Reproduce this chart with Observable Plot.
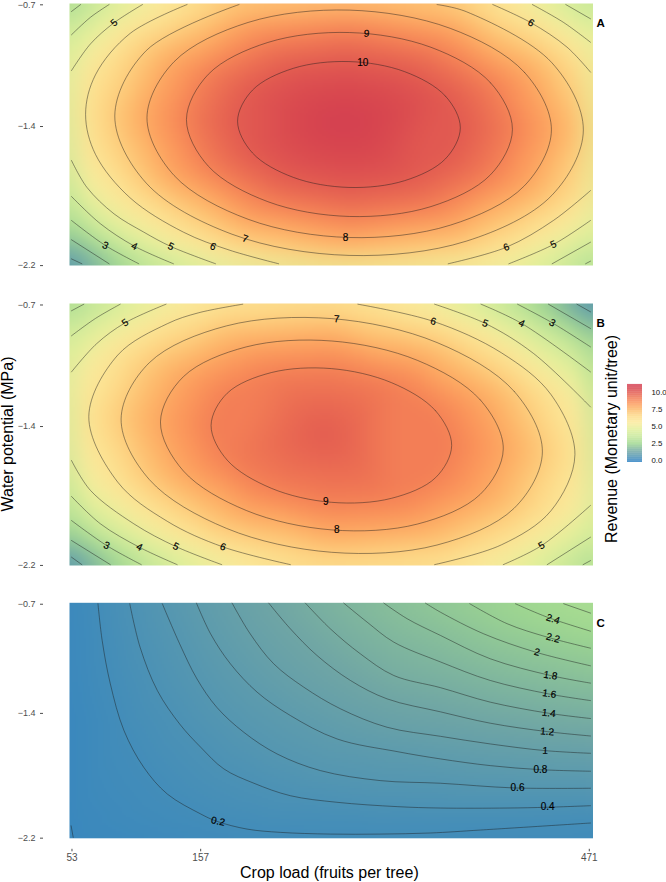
<!DOCTYPE html>
<html>
<head>
<meta charset="utf-8">
<script src="https://cdn.jsdelivr.net/npm/d3@7"></script>
<script src="https://cdn.jsdelivr.net/npm/@observablehq/plot@0.6"></script>
<style>
html,body{margin:0;padding:0;background:#fff;}
#page{position:relative;width:666px;height:882px;overflow:hidden;font-family:"Liberation Sans",Arial,sans-serif;}
#page svg{position:absolute;overflow:visible;}
.t{position:absolute;white-space:nowrap;color:#000;}
.rot{transform:translate(-50%,-50%) rotate(-90deg);}
.tag{font-weight:bold;font-size:11.5px;}
</style>
</head>
<body>
<div id="page"></div>
<script>
// Contour lines: level, closed?, [crop load, water potential]
const contoursA = [
 {level:10,closed:true,pts:[[366.8,-1.412],[354.7,-1.229],[321.8,-1.089],[276.8,-1.031],[231.8,-1.07],[198.9,-1.195],[186.8,-1.374],[198.9,-1.557],[231.8,-1.697],[276.8,-1.755],[321.8,-1.716],[354.7,-1.591]]},
 {level:9,closed:true,pts:[[408.9,-1.421],[391.2,-1.153],[343.1,-.949],[277.2,-.864],[211.3,-.921],[163.2,-1.104],[145.5,-1.365],[163.2,-1.633],[211.3,-1.837],[277.2,-1.922],[343.1,-1.865],[391.2,-1.682]]},
 {level:8,closed:true,pts:[[440.4,-1.424],[418.5,-1.092],[358.7,-.84],[277,-.735],[195.3,-.806],[135.5,-1.032],[113.6,-1.354],[135.5,-1.686],[195.3,-1.938],[277,-2.043],[358.7,-1.972],[418.5,-1.746]]},
 {level:7,closed:false,pts:[[188,-.703],[113,-.968],[87.6,-1.344],[113,-1.73],[182.3,-2.024],[276.9,-2.146],[371.6,-2.064],[440.8,-1.8],[466.2,-1.424],[440.8,-1.038],[371.6,-.744],[348,-.703]]},
 {level:6,closed:false,pts:[[146,-.703],[100,-.869],[72,-1.107],[64,-1.334],[72,-1.565],[100,-1.815],[143,-2.012],[180,-2.115],[220,-2.194]]},
 {level:6,closed:false,pts:[[393,-.703],[424,-.808],[453,-.948],[472,-1.092]]},
 {level:6,closed:false,pts:[[357,-2.194],[404,-2.099],[442,-1.945],[472,-1.773]]},
 {level:5,closed:false,pts:[[110,-.703],[87,-.808],[68,-.929],[52.6,-1.083]]},
 {level:5,closed:false,pts:[[52.6,-1.6],[65,-1.754],[87,-1.907],[111,-2.012],[133,-2.095],[169,-2.194]]},
 {level:5,closed:false,pts:[[425,-.703],[450,-.805],[472,-.92]]},
 {level:5,closed:false,pts:[[406,-2.194],[442,-2.083],[472,-1.945]]},
 {level:4,closed:false,pts:[[83,-.703],[68,-.776],[52.6,-.877]]},
 {level:4,closed:false,pts:[[52.6,-1.807],[76,-1.964],[103.5,-2.093],[135,-2.194]]},
 {level:4,closed:false,pts:[[452,-.703],[472,-.785]]},
 {level:4,closed:false,pts:[[441,-2.194],[472,-2.07]]},
 {level:3,closed:false,pts:[[60,-.703],[52.6,-.743]]},
 {level:3,closed:false,pts:[[52.6,-1.945],[80,-2.089],[107,-2.194]]},
 {level:3,closed:false,pts:[[468,-2.194],[472,-2.179]]},
 {level:2,closed:false,pts:[[52.6,-2.056],[83,-2.194]]},
 {level:1,closed:false,pts:[[52.6,-2.166],[61,-2.194]]}
];
const peaksA = [[274,-1.38,11],[51,-.696,2.5],[474,-.696,3.3],[51,-2.205,.4],[474,-2.205,2.8]];
const labelsA = [
 ["5",87,-.808,-40],["3",80,-2.089,25],["4",103.5,-2.093,25],["5",133,-2.095,25],["6",167,-2.095,22],["7",193,-2.051,18],
 ["9",291,-.87,5],["10",288,-1.036,0],["8",274,-2.043,0],["6",424,-.808,30],["6",404,-2.099,-22],["5",442,-2.083,-25]
];

const contoursB = [
 {level:9,closed:true,pts:[[359.8,-1.514],[346.8,-1.314],[311.2,-1.152],[262.6,-1.071],[214,-1.094],[178.4,-1.213],[165.4,-1.398],[178.4,-1.598],[214,-1.76],[262.6,-1.841],[311.2,-1.818],[346.8,-1.699]]},
 {level:8,closed:true,pts:[[401.5,-1.534],[382.9,-1.251],[332.3,-1.024],[263,-.912],[193.8,-.946],[143.1,-1.117],[124.5,-1.378],[143.1,-1.661],[193.8,-1.888],[263,-2],[332.3,-1.966],[382.9,-1.795]]},
 {level:7,closed:true,pts:[[433.1,-1.551],[410.3,-1.202],[348,-.921],[262.9,-.783],[177.8,-.825],[115.5,-1.037],[92.7,-1.361],[115.5,-1.71],[177.8,-1.991],[262.9,-2.129],[348,-2.087],[410.3,-1.875]]},
 {level:6,closed:false,pts:[[191,-.7],[155,-.75],[130,-.8125],[90,-.993],[66.6,-1.346],[90,-1.725],[130,-1.9505],[175,-2.098],[229.5,-2.2]]},
 {level:6,closed:false,pts:[[284,-.7],[345,-.799],[400,-.98],[440,-1.22],[459.4,-1.566],[440,-1.89],[400,-2.086],[346,-2.2]]},
 {level:5,closed:false,pts:[[129,-.7],[96,-.807],[73,-.927],[52.6,-1.09]]},
 {level:5,closed:false,pts:[[52.6,-1.6],[68,-1.773],[103,-1.965],[137,-2.096],[174,-2.2]]},
 {level:5,closed:false,pts:[[346,-.7],[387,-.811],[426,-.984],[472,-1.292]]},
 {level:5,closed:false,pts:[[401.5,-2.2],[432.5,-2.09],[472,-1.859]]},
 {level:4,closed:false,pts:[[92,-.7],[72,-.782],[52.6,-.882]]},
 {level:4,closed:false,pts:[[52.6,-1.807],[76,-1.965],[107.5,-2.1],[138,-2.2]]},
 {level:4,closed:false,pts:[[383.5,-.7],[416.4,-.811],[472,-1.09]]},
 {level:4,closed:false,pts:[[437,-2.2],[472,-2.042]]},
 {level:3,closed:false,pts:[[62.6,-.7],[52.6,-.738]]},
 {level:3,closed:false,pts:[[52.6,-1.946],[81,-2.09],[109,-2.2]]},
 {level:3,closed:false,pts:[[413,-.7],[441,-.807],[472,-.946]]},
 {level:3,closed:false,pts:[[466,-2.2],[472,-2.177]]},
 {level:2,closed:false,pts:[[52.6,-2.061],[84,-2.2]]},
 {level:2,closed:false,pts:[[438,-.7],[472,-.84]]},
 {level:1,closed:false,pts:[[52.6,-2.157],[61,-2.2]]},
 {level:1,closed:false,pts:[[461,-.7],[472,-.744]]}
];
const peaksB = [[258,-1.45,9.95],[51,-.696,2.5],[474,-.696,.3],[51,-2.205,.4],[474,-2.205,2.7]];
const labelsB = [
 ["5",96,-.807,-35],["3",81,-2.09,25],["4",107.5,-2.1,27],["5",137,-2.096,25],["6",175,-2.098,20],["9",258,-1.836,0],
 ["8",267,-2,0],["7",267,-.785,3],["6",345,-.799,15],["5",387,-.811,20],["4",416.4,-.811,27],["3",441,-.807,30],["5",432.5,-2.09,-30]
];

const contoursC = [
 {level:0,closed:false,pts:[[52.3,-2.126],[54,-2.2]]},
 {level:.2,closed:false,pts:[[74,-.702],[77.4,-.938],[84,-1.216],[95,-1.515],[111,-1.751],[130,-1.922],[157,-2.05],[170,-2.097],[194.5,-2.147],[221.4,-2.168],[261.8,-2.179],[302,-2.179],[342.6,-2.172],[383,-2.153],[472,-2.108]]},
 {level:.4,closed:false,pts:[[99.7,-.702],[108,-.98],[122,-1.259],[140,-1.473],[157,-1.622],[175.7,-1.761],[200,-1.853],[229.5,-1.933],[267,-1.975],[315.7,-2.003],[350.7,-2.012],[404.6,-2.012],[437,-2.007],[472,-1.997]]},
 {level:.6,closed:false,pts:[[126,-.702],[140,-.959],[154,-1.184],[170,-1.366],[191.8,-1.526],[218.7,-1.665],[253.8,-1.772],[302,-1.836],[350.7,-1.853],[410,-1.883],[472,-1.885]]},
 {level:.8,closed:false,pts:[[153.6,-.698],[165,-.895],[181,-1.087],[202.6,-1.269],[229.5,-1.419],[267.2,-1.569],[315.7,-1.65],[350.7,-1.697],[391,-1.74],[431.5,-1.766],[472,-1.776]]},
 {level:1,closed:false,pts:[[182.4,-.698],[197,-.895],[216,-1.087],[240.3,-1.237],[270,-1.376],[307.6,-1.494],[350.7,-1.552],[391,-1.601],[435.5,-1.644],[472,-1.661]]},
 {level:1.2,closed:false,pts:[[212,-.698],[229.5,-.863],[251,-1.034],[278,-1.194],[307.6,-1.312],[350.7,-1.395],[391,-1.468],[437,-1.522],[472,-1.55]]},
 {level:1.4,closed:false,pts:[[241.6,-.698],[261.8,-.863],[286,-1.023],[313,-1.162],[350.7,-1.24],[391,-1.333],[438,-1.404],[472,-1.438]]},
 {level:1.6,closed:false,pts:[[272.6,-.698],[291.5,-.82],[313,-.948],[350.7,-1.075],[391,-1.194],[438,-1.28],[472,-1.323]]},
 {level:1.8,closed:false,pts:[[305,-.698],[323.8,-.798],[350.7,-.905],[391,-1.055],[439.6,-1.162],[472,-1.211]]},
 {level:2,closed:false,pts:[[338.6,-.698],[350.7,-.756],[385.7,-.895],[427.5,-1.012],[472,-1.1]]},
 {level:2.2,closed:false,pts:[[374.4,-.702],[404.6,-.83],[437,-.916],[472,-.987]]},
 {level:2.4,closed:false,pts:[[411.3,-.702],[437,-.788],[472,-.878]]},
 {level:2.6,closed:false,pts:[[450.3,-.702],[472,-.762]]}
];
const peaksC = [[51,-.696,.02],[51,-1.4,0],[51,-2.205,0],[474,-.696,2.72],[474,-2.205,.12],[264,-2.205,.15]];
const labelsC = [
 ["0.2",171,-2.097,12],["2.4",441.7,-.8,18],["2.2",441.7,-.922,15],["2",428.8,-1.012,15],["1.8",439.6,-1.162,10],["1.6",438.8,-1.28,8],
 ["1.4",438.2,-1.404,7],["1.2",436.9,-1.522,5],["1",435.3,-1.644,3],["0.8",431.5,-1.766,0],["0.6",413,-1.885,0],["0.4",437.4,-2.007,0]
];

// Shared colour scale, legend, tick labels
const colorDomain = [0,1.2,2.4,3.5,4.5,5.5,6.5,7.5,8.5,9.5,10.5,11];
const colorRange = ["#3a88bd","#6fa5a5","#a0d890","#c8e89a","#e2f09a","#fbea9c","#fdd987","#fdb668","#fb9259","#ea6a52","#d8474f","#d43f50"];
const xTicks = [53,157,471];
const yTicks = [-.7,-1.4,-2.2];
const legendTicks = [0,2.5,5,7.5,10];
const legendStops = d3.range(-.3,11.2,.1);
const xDomain = [51,474];

const color = {type:"linear",domain:colorDomain,range:colorRange,interpolate:"rgb"};
const page = document.getElementById("page");

function panel(top,mTop,inner,yDomain,contours,peaks,labels,withX){
  const rows = contours.flatMap((c,i)=>c.pts.map(([x,y])=>({x,y,v:c.level,id:i,closed:c.closed})));
  const points = rows.concat(peaks.map(([x,y,v])=>({x,y,v})));
  const p = Plot.plot({
    width:666,height:mTop+inner+(withX?44:6),
    marginLeft:69,marginRight:73.5,marginTop:mTop,marginBottom:withX?44:6,
    style:{fontFamily:'"Liberation Sans",Arial,sans-serif',background:"transparent",overflow:"visible"},
    x:{domain:xDomain,axis:null},
    y:{domain:yDomain,axis:null},
    color,
    marks:[
      Plot.raster(points,{x:"x",y:"y",fill:"v",interpolate:"barycentric",pixelSize:2,blur:5}),
      Plot.line(rows.filter(d=>!d.closed),{x:"x",y:"y",z:"id",curve:"catmull-rom",stroke:"#1a1a1a",strokeWidth:.5,strokeOpacity:.9}),
      Plot.line(rows.filter(d=>d.closed),{x:"x",y:"y",z:"id",curve:"catmull-rom-closed",stroke:"#1a1a1a",strokeWidth:.5,strokeOpacity:.9}),
      Plot.text(labels,{x:d=>d[1],y:d=>d[2],text:d=>d[0],rotate:d=>d[3],fontSize:10,fill:"#000",stroke:"#000",strokeWidth:.15}),
      Plot.axisY({ticks:yTicks,tickSize:3,tickPadding:5,dx:-26,dy:.8,label:null,fontSize:9,color:"#4d4d4d",tickFormat:d=>d3.format(".1f")(d).replace("-","\u2212")}),
      withX
        ? Plot.axisX({ticks:xTicks,tickSize:2.5,tickPadding:2,dy:11,label:null,fontSize:10,color:"#4d4d4d",tickFormat:d=>String(d)})
        : null
    ]
  });
  p.style.left="0px";p.style.top=top+"px";
  page.appendChild(p);
}
panel(0,3,262,[-2.204,-.697],contoursA,peaksA,labelsA,false);
panel(300,3,262,[-2.205,-.696],contoursB,peaksB,labelsB,false);
panel(598,4.3,235.5,[-2.206,-.696],contoursC,peaksC,labelsC,true);

// Colour legend
const leg = Plot.plot({
  width:46,height:78,marginLeft:7,marginRight:24,marginTop:0,marginBottom:0,
  style:{fontFamily:'"Liberation Sans",Arial,sans-serif',background:"transparent",overflow:"visible"},
  x:{domain:[0,1],axis:null},
  y:{domain:[-.3,11.2],axis:null},
  color,
  marks:[
    Plot.rect(legendStops,{x1:0,x2:1,y1:d=>d,y2:d=>d+.11,fill:d=>d}),
    Plot.axisY({anchor:"right",ticks:legendTicks,tickSize:0,tickPadding:9,fontSize:7.8,color:"#111",label:null,tickFormat:d3.format(".1f")})
  ]
});
leg.style.left="620px";leg.style.top="384px";
page.appendChild(leg);

// Axis titles and panel tags
function txt(s,left,top,cls,size){
  const d=document.createElement("div");d.className="t "+cls;d.textContent=s;
  d.style.left=left+"px";d.style.top=top+"px";if(size)d.style.fontSize=size+"px";
  page.appendChild(d);
}
txt("Water potential (MPa)",8,434,"rot",16);
txt("Revenue (Monetary unit/tree)",612,439,"rot",16);
txt("Crop load (fruits per tree)",240,864,"",16);
txt("A",596.5,17,"tag");
txt("B",596.5,317,"tag");
txt("C",596.5,617,"tag");
</script>
</body>
</html>
